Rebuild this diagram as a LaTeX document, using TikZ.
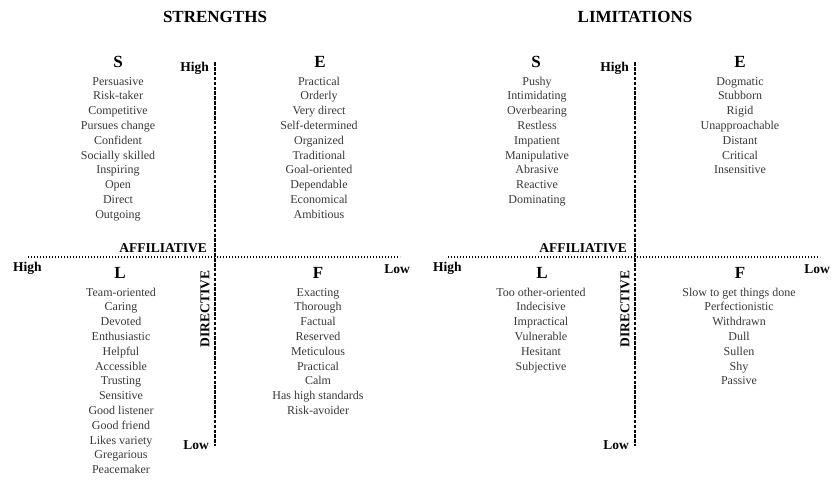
\documentclass[tikz,border=0pt]{standalone}
\usepackage{fontspec}
\setmainfont{Liberation Serif}
\usepackage{tikz}
\usetikzlibrary{positioning}

\tikzset{
  title/.style={font=\fontsize{17}{20}\selectfont\bfseries, inner sep=0pt},
  quad/.style={font=\fontsize{17}{20}\selectfont\bfseries, inner sep=0pt},
  axislabel/.style={font=\fontsize{13.5}{16}\selectfont\bfseries, inner sep=0pt},
  item/.style={font=\fontsize{12}{14}\selectfont, text=black!78, inner sep=0pt, anchor=base},
  vaxis/.style={line width=1.6pt, dash pattern=on 3.6pt off 1.3pt},
  haxis/.style={line width=1.5pt, dash pattern=on 1.3pt off 1.7pt}
}

\begin{document}
\begin{tikzpicture}[x=1pt, y=-1pt]
\useasboundingbox (0,0) rectangle (831,483);

% ---------------- STRENGTHS ----------------
\node[title] (strT) at (215,17) {STRENGTHS};
% axes
\coordinate (strVt) at (215,62);
\coordinate (strVb) at (215,446);
\coordinate (strHl) at (28,257);
\coordinate (strHr) at (400,257);
\draw[vaxis] (strVt) -- (strVb);
\draw[haxis] (strHl) -- (strHr);
\node[axislabel, anchor=east] (strHigh) at (209,68) {High};
\node[axislabel, anchor=east] (strLow) at (209,445) {Low};
\node[axislabel, anchor=east] (strAff) at (207,248) {AFFILIATIVE};
\node[axislabel, anchor=west] (strHighL) at (13,268) {High};
\node[axislabel, anchor=east] (strLowR) at (410,269) {Low};
\node[axislabel, rotate=90] (strDir) at (205,309) {DIRECTIVE};
% quadrant letters
\node[quad] (strS) at (118,62) {S};
\node[quad] (strE) at (320,62) {E};
\node[quad] (strL) at (120,273) {L};
\node[quad] (strF) at (318,273) {F};
% word lists
\foreach \w [count=\i from 0] in {Persuasive, Risk-taker, Competitive, Pursues change,
    Confident, Socially skilled, Inspiring, Open, Direct, Outgoing}
  \node[item] (strS\i) at (118,85+14.8*\i) {\w};
\foreach \w [count=\i from 0] in {Practical, Orderly, Very direct, Self-determined,
    Organized, Traditional, Goal-oriented, Dependable, Economical, Ambitious}
  \node[item] (strE\i) at (319,85+14.8*\i) {\w};
\foreach \w [count=\i from 0] in {Team-oriented, Caring, Devoted, Enthusiastic, Helpful,
    Accessible, Trusting, Sensitive, Good listener, Good friend, Likes variety,
    Gregarious, Peacemaker}
  \node[item] (strL\i) at (121,296+14.8*\i) {\w};
\foreach \w [count=\i from 0] in {Exacting, Thorough, Factual, Reserved, Meticulous,
    Practical, Calm, Has high standards, Risk-avoider}
  \node[item] (strF\i) at (318,296+14.8*\i) {\w};

% ---------------- LIMITATIONS ----------------
\node[title] (limT) at (635,17) {LIMITATIONS};
% axes
\coordinate (limVt) at (635,62);
\coordinate (limVb) at (635,446);
\coordinate (limHl) at (448,257);
\coordinate (limHr) at (820,257);
\draw[vaxis] (limVt) -- (limVb);
\draw[haxis] (limHl) -- (limHr);
\node[axislabel, anchor=east] (limHigh) at (629,68) {High};
\node[axislabel, anchor=east] (limLow) at (629,445) {Low};
\node[axislabel, anchor=east] (limAff) at (627,248) {AFFILIATIVE};
\node[axislabel, anchor=west] (limHighL) at (433,268) {High};
\node[axislabel, anchor=east] (limLowR) at (830,269) {Low};
\node[axislabel, rotate=90] (limDir) at (625,309) {DIRECTIVE};
% quadrant letters
\node[quad] (limS) at (536,62) {S};
\node[quad] (limE) at (740,62) {E};
\node[quad] (limL) at (542,273) {L};
\node[quad] (limF) at (740,273) {F};
% word lists
\foreach \w [count=\i from 0] in {Pushy, Intimidating, Overbearing, Restless, Impatient,
    Manipulative, Abrasive, Reactive, Dominating}
  \node[item] (limS\i) at (537,85+14.8*\i) {\w};
\foreach \w [count=\i from 0] in {Dogmatic, Stubborn, Rigid, Unapproachable, Distant,
    Critical, Insensitive}
  \node[item] (limE\i) at (740,85+14.8*\i) {\w};
\foreach \w [count=\i from 0] in {Too other-oriented, Indecisive, Impractical, Vulnerable,
    Hesitant, Subjective}
  \node[item] (limL\i) at (541,296+14.8*\i) {\w};
\foreach \w [count=\i from 0] in {Slow to get things done, Perfectionistic, Withdrawn,
    Dull, Sullen, Shy, Passive}
  \node[item] (limF\i) at (739,296+14.8*\i) {\w};
\end{tikzpicture}
\end{document}
